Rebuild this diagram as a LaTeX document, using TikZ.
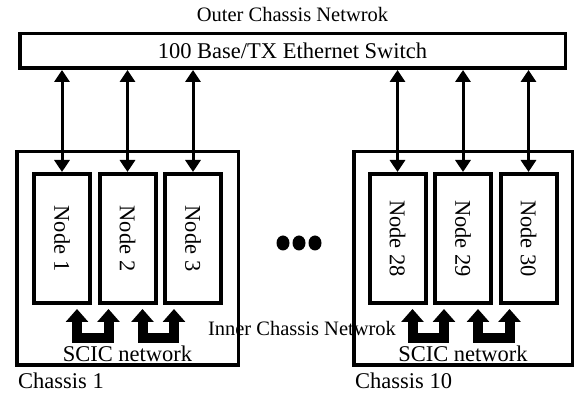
\documentclass[tikz,border=0pt]{standalone}
\usepackage{fontspec}
\setmainfont{Liberation Serif}
\usepackage{graphicx}
\usetikzlibrary{arrows.meta, positioning}
\newcommand{\bigtxt}{\fontsize{22.5}{27}\selectfont}
\newcommand{\midtxt}{\fontsize{20.5}{24}\selectfont}
\tikzset{
  >={Triangle[length=12pt, width=15pt]},
  swbox/.style={rectangle, draw, line width=3.5pt, minimum width=545.5pt,
                minimum height=34.5pt, inner sep=0pt, font=\bigtxt},
  chassis/.style={rectangle, draw, line width=3.5pt, minimum height=213.5pt, inner sep=0pt},
  pc/.style={rectangle, draw, line width=4pt, minimum width=56pt,
             minimum height=129pt, inner sep=0pt, font=\bigtxt},
  flow/.style={<->, line width=3pt},
  scic/.style={line width=10pt, line join=miter,
               {Triangle[length=13pt, width=22pt]}-{Triangle[length=13pt, width=22pt]}},
  lbl/.style={inner sep=0pt, font=\bigtxt},
  lblm/.style={inner sep=0pt, font=\midtxt},
}

\begin{document}
\begin{tikzpicture}[x=1pt, y=1pt]
  \useasboundingbox (0,0) rectangle (576,396);
  % outer network
  \node[swbox] (sw) at (292.5,345) {100 Base/TX Ethernet Switch};
  \node[lblm, above=10pt of sw] (outer) {Outer Chassis Netwrok};
  % chassis 1
  \node[chassis, minimum width=221.5pt] (ch1) at (127.5,137.5) {};
  \node[pc] (n1) at (62,157.5) {\rotatebox{-90}{Node 1}};
  \node[pc, right=5.5pt of n1] (n2) {\rotatebox{-90}{Node 2}};
  \node[pc, right=5.5pt of n2] (n3) {\rotatebox{-90}{Node 3}};
  \node[lbl, below right=5.5pt and 3pt of ch1.south west] (c1lbl) {Chassis 1};
  \node[lbl, above=5pt of ch1.south] (s1lbl) {SCIC network};
  % chassis 10
  \node[chassis, minimum width=218.5pt] (ch10) at (463,137.5) {};
  \node[pc] (n28) at (397.5,157.5) {\rotatebox{-90}{Node 28}};
  \node[pc, right=5.5pt of n28] (n29) {\rotatebox{-90}{Node 29}};
  \node[pc, right=5.5pt of n29] (n30) {\rotatebox{-90}{Node 30}};
  \node[lbl, below right=5.5pt and 3pt of ch10.south west] (c10lbl) {Chassis 10};
  \node[lbl, above=5pt of ch10.south] (s10lbl) {SCIC network};
  \node[lblm] (inner) at (302,68) {Inner Chassis Netwrok};
  % dots between the chassis
  \foreach \x in {283,299,315} \fill (\x,153) ellipse (6.5 and 7.5);
  % switch links
  \foreach \n in {n1,n2,n3,n28,n29,n30}
    \draw[flow] (\n.north) -- (\n.north |- sw.south);
  % SCIC links
  \draw[scic] ([xshift=-15pt,yshift=-4pt]n1.south east) -- ++(0,-29) -| ([xshift=11pt,yshift=-4pt]n2.south west);
  \draw[scic] ([xshift=-15pt,yshift=-4pt]n2.south east) -- ++(0,-29) -| ([xshift=11pt,yshift=-4pt]n3.south west);
  \draw[scic] ([xshift=-15pt,yshift=-4pt]n28.south east) -- ++(0,-29) -| ([xshift=11pt,yshift=-4pt]n29.south west);
  \draw[scic] ([xshift=-15pt,yshift=-4pt]n29.south east) -- ++(0,-29) -| ([xshift=11pt,yshift=-4pt]n30.south west);
\end{tikzpicture}
\end{document}
